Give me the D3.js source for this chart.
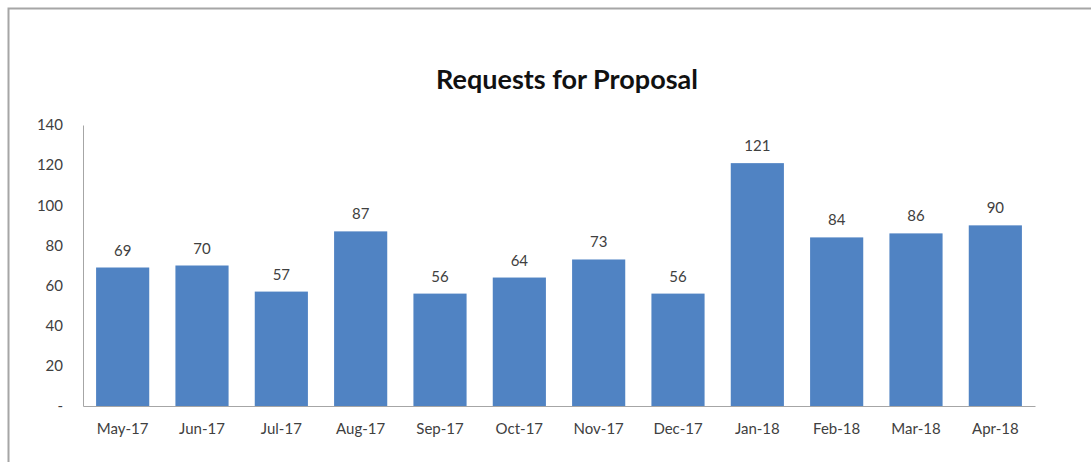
<!DOCTYPE html>
<html><head><meta charset="utf-8">
<script src="https://cdn.jsdelivr.net/npm/d3@7"></script>
<style>body{margin:0;background:#fff}svg{display:block}</style>
</head><body><svg id="c" width="1091" height="462"></svg>
<script>
const categories = ["May-17","Jun-17","Jul-17","Aug-17","Sep-17","Oct-17","Nov-17","Dec-17","Jan-18","Feb-18","Mar-18","Apr-18"];
const values = [69,70,57,87,56,64,73,56,121,84,86,90];
const yTicks = [0,20,40,60,80,100,120,140];
const title = "Requests for Proposal";

const svg = d3.select("#c");
const font = "Lato, 'Liberation Sans', sans-serif";
// frame
svg.append("path").attr("d","M8.5,462 V8.5 H1091").attr("fill","none").attr("stroke","#a6a6a6").attr("stroke-width",2);

const m = {l:83, r:1035, t:125, b:406};
const x = d3.scaleBand().domain(categories).range([m.l, m.r]).paddingInner(0.33).paddingOuter(0.165);
const y = d3.scaleLinear().domain([0,140]).range([m.b, m.t]);

svg.append("text").attr("x",567).attr("y",89).attr("text-anchor","middle")
  .attr("font-family",font).attr("font-weight","bold").attr("font-size",27).attr("fill","#111").text(title);

svg.selectAll("rect.bar").data(values).join("rect").attr("class","bar")
  .attr("x",(d,i)=>x(categories[i])).attr("width",x.bandwidth())
  .attr("y",d=>y(d)).attr("height",d=>y(0)-y(d)).attr("fill","#5083C3");

svg.selectAll("text.val").data(values).join("text").attr("class","val")
  .attr("x",(d,i)=>x(categories[i])+x.bandwidth()/2).attr("y",d=>y(d)-12)
  .attr("text-anchor","middle").attr("font-family",font).attr("font-size",15).attr("fill","#404040").text(d=>d);

const ya = d3.axisLeft(y).tickValues(yTicks).tickSize(0).tickPadding(20).tickFormat(d=>d===0?"-":d);
const gy = svg.append("g").attr("transform",`translate(${m.l},0)`).call(ya);
gy.select(".domain").attr("stroke","#a6a6a6");
gy.selectAll("text").attr("font-family",font).attr("font-size",15).attr("fill","#404040");

const xa = d3.axisBottom(x).tickSize(0).tickPadding(17);
const gx = svg.append("g").attr("transform",`translate(0,${m.b})`).call(xa);
gx.select(".domain").attr("stroke","#a6a6a6");
gx.selectAll("text").attr("font-family",font).attr("font-size",15).attr("fill","#404040");
</script></body></html>
